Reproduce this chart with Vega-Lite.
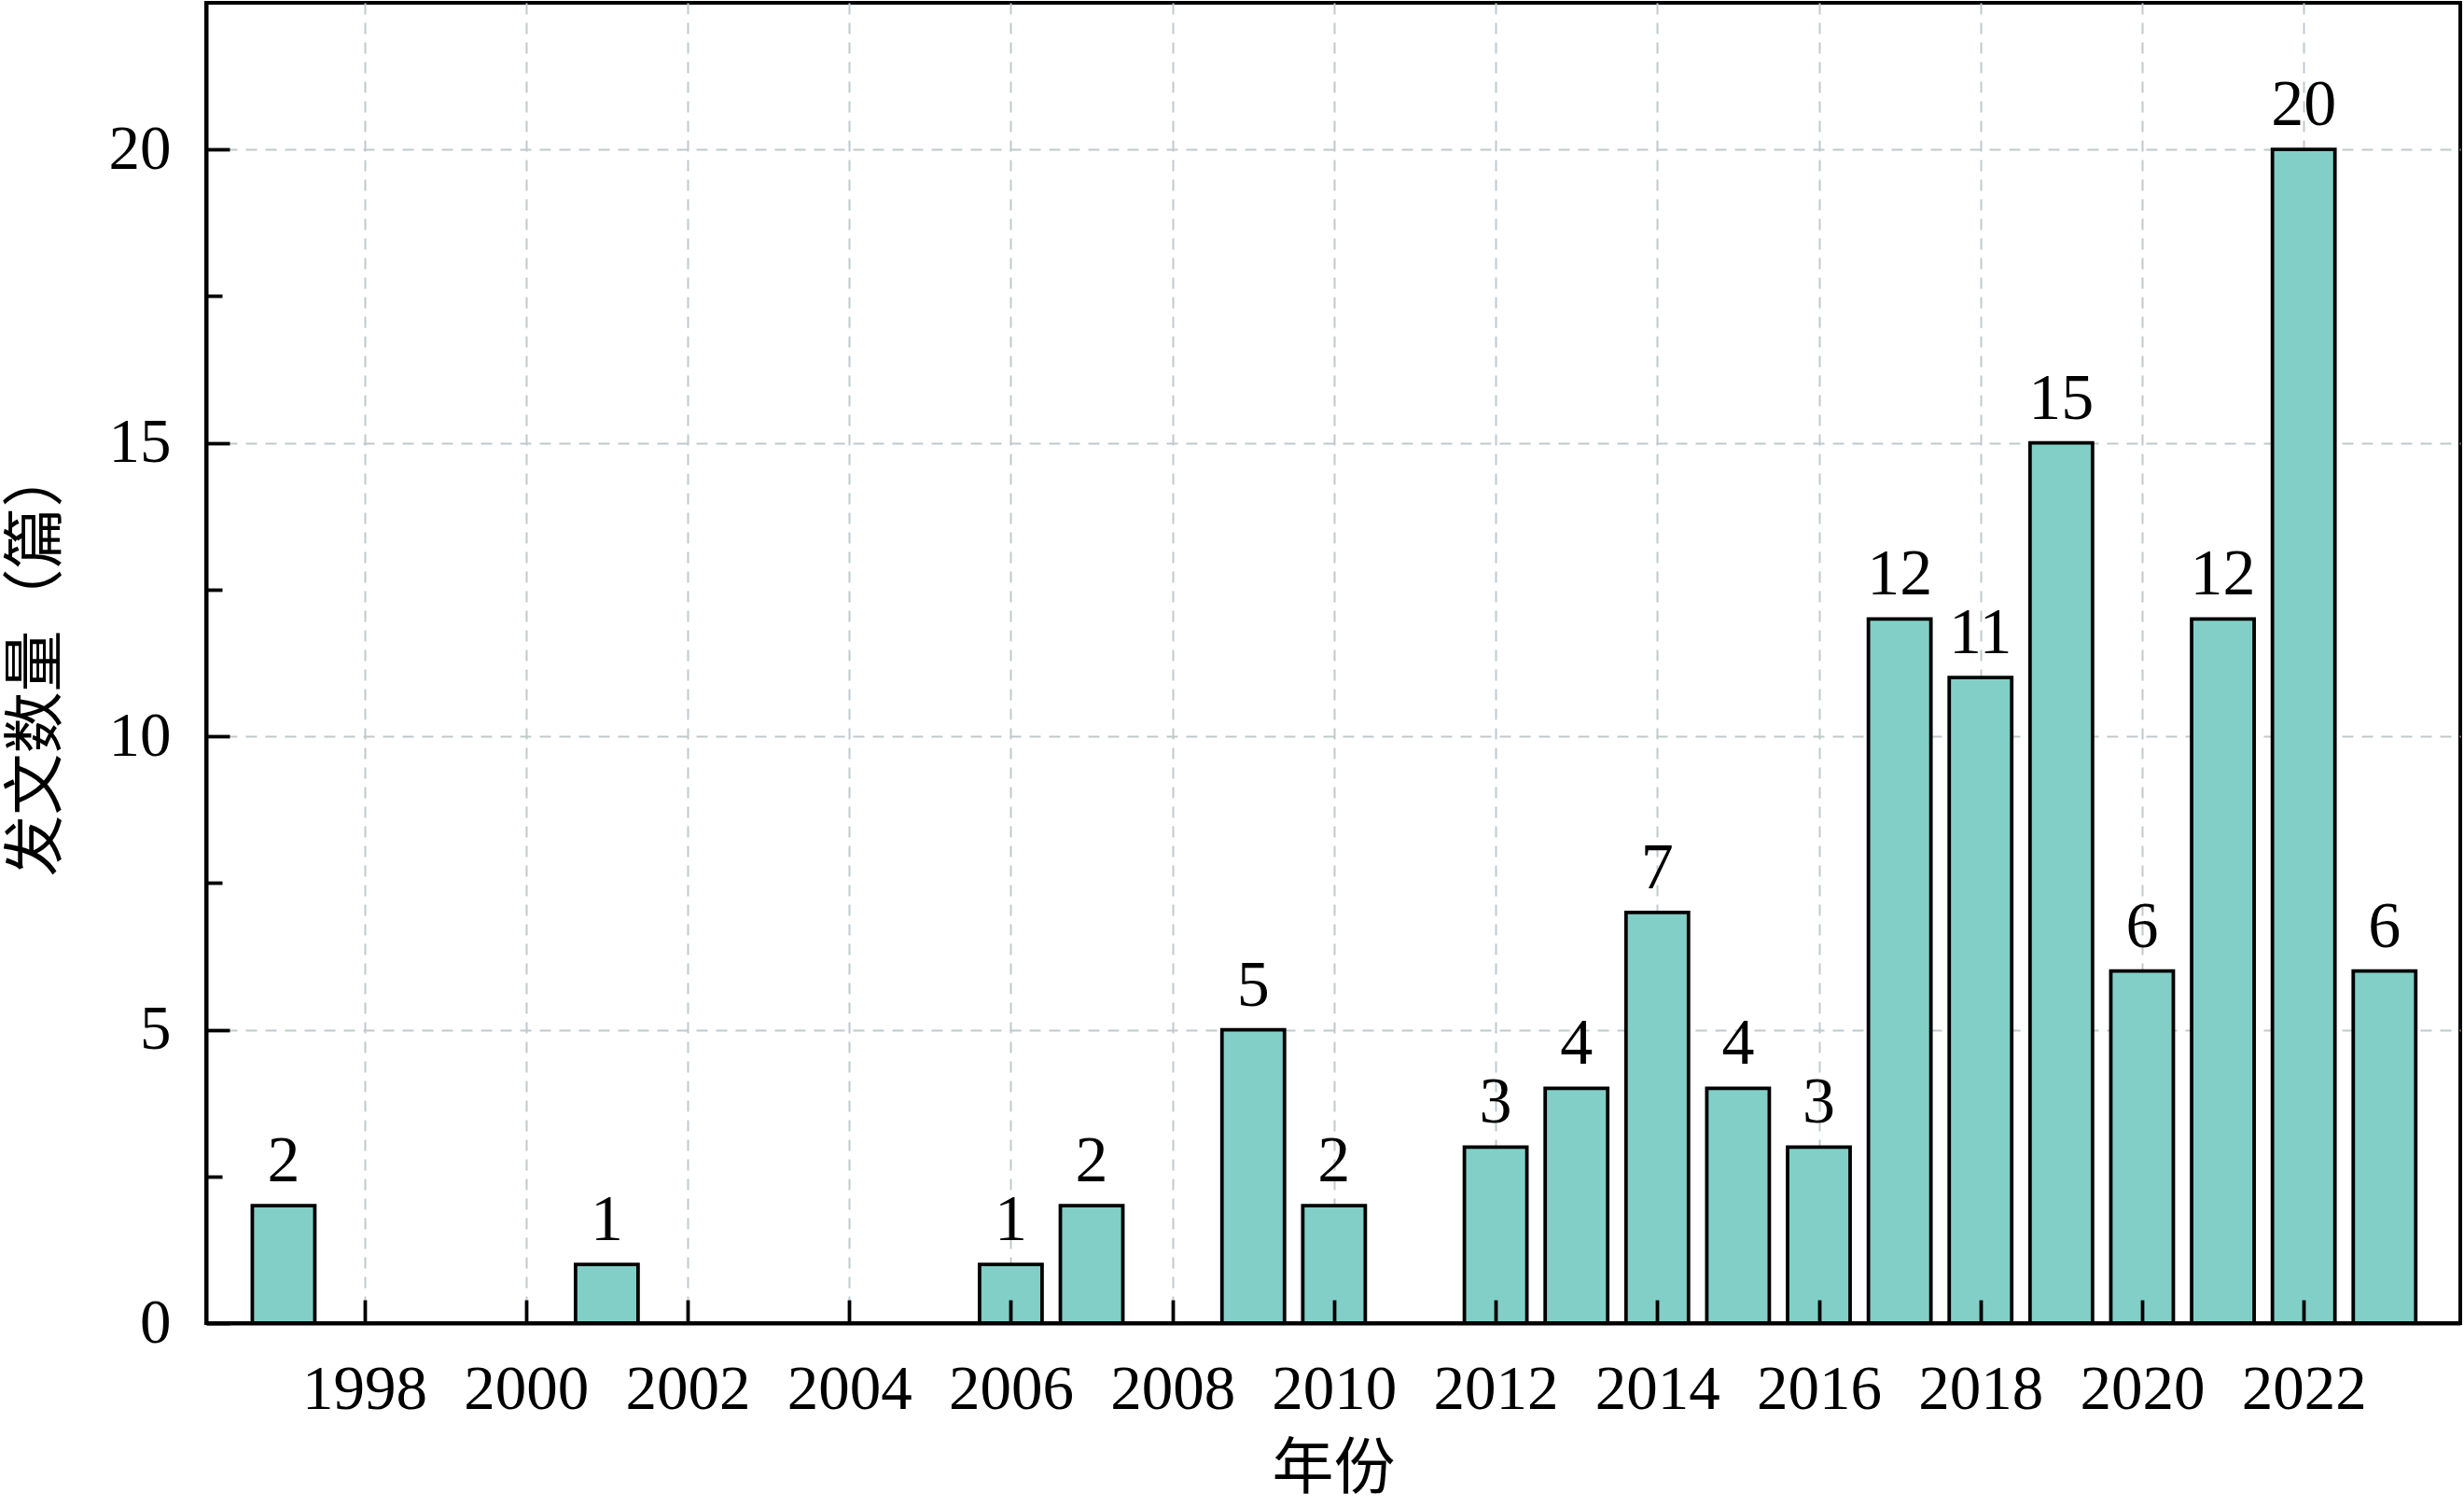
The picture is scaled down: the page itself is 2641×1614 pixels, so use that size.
{
  "$schema": "https://vega.github.io/schema/vega-lite/v6.json",
  "width": 2416,
  "height": 1415,
  "autosize": {"type": "none"},
  "padding": {"left": 221, "top": 3, "right": 4, "bottom": 196},
  "background": "white",
  "config": {
    "view": {"stroke": "black", "strokeWidth": 4},
    "font": "Liberation Serif"
  },
  "data": {
    "values": [
      {"year": 1997, "count": 2},
      {"year": 2001, "count": 1},
      {"year": 2006, "count": 1},
      {"year": 2007, "count": 2},
      {"year": 2009, "count": 5},
      {"year": 2010, "count": 2},
      {"year": 2012, "count": 3},
      {"year": 2013, "count": 4},
      {"year": 2014, "count": 7},
      {"year": 2015, "count": 4},
      {"year": 2016, "count": 3},
      {"year": 2017, "count": 12},
      {"year": 2018, "count": 11},
      {"year": 2019, "count": 15},
      {"year": 2020, "count": 6},
      {"year": 2021, "count": 12},
      {"year": 2022, "count": 20},
      {"year": 2023, "count": 6}
    ]
  },
  "resolve": {"axis": {"x": "independent", "y": "independent"}},
  "layer": [
    {
      "mark": {"type": "bar", "size": 67, "fill": "#82CFC7", "stroke": "black", "strokeWidth": 3.8},
      "encoding": {
        "x": {
          "field": "year", "type": "quantitative",
          "scale": {"domain": [1996.1, 2023.88], "nice": false, "zero": false},
          "axis": {
            "orient": "bottom", "values": [1998, 2000, 2002, 2004, 2006, 2008, 2010, 2012, 2014, 2016, 2018, 2020, 2022],
            "grid": true, "gridColor": "#bfc9cd", "gridDash": [12, 9], "gridWidth": 2,
            "labels": false, "ticks": false, "domain": false, "title": null, "zindex": 0
          }
        },
        "y": {
          "field": "count", "type": "quantitative",
          "scale": {"domain": [0, 22.5], "nice": false},
          "axis": {
            "orient": "left", "values": [5, 10, 15, 20],
            "grid": true, "gridColor": "#bfc9cd", "gridDash": [12, 9], "gridWidth": 2,
            "labels": false, "ticks": false, "domain": false, "title": null, "zindex": 0
          }
        }
      }
    },
    {
      "mark": {"type": "text", "baseline": "alphabetic", "align": "center", "dy": -26, "fontSize": 70, "font": "Liberation Serif", "color": "black"},
      "encoding": {
        "x": {
          "field": "year", "type": "quantitative",
          "axis": {
            "orient": "bottom", "values": [1998, 2000, 2002, 2004, 2006, 2008, 2010, 2012, 2014, 2016, 2018, 2020, 2022],
            "format": "d", "grid": false,
            "domain": true, "domainColor": "black", "domainWidth": 4,
            "ticks": true, "tickSize": -25, "tickWidth": 3.8, "tickColor": "black",
            "labelFont": "Liberation Serif", "labelFontSize": 67, "labelColor": "black", "labelPadding": 63,
            "title": "年份", "titleFont": "Liberation Serif, Noto Sans CJK SC", "titleFontSize": 66, "titleFontWeight": "normal", "titleColor": "black",
            "titleBaseline": "alphabetic", "titleY": 176,
            "zindex": 1
          }
        },
        "y": {
          "field": "count", "type": "quantitative",
          "axis": {
            "orient": "left", "values": [0, 5, 10, 15, 20],
            "grid": false,
            "domain": true, "domainColor": "black", "domainWidth": 4,
            "ticks": true, "tickSize": -25, "tickWidth": 3.8, "tickColor": "black",
            "labelFont": "Liberation Serif", "labelFontSize": 67, "labelColor": "black", "labelPadding": 63,
            "title": "发文数量（篇）", "titleFont": "Liberation Serif, Noto Sans CJK SC", "titleFontSize": 66, "titleFontWeight": "normal", "titleColor": "black",
            "titleBaseline": "alphabetic", "titleX": -162, "titleY": 705, "titleAngle": -90,
            "zindex": 1
          }
        },
        "text": {"field": "count", "type": "quantitative"}
      }
    },
    {
      "mark": {"type": "text", "opacity": 0, "text": ""},
      "encoding": {
        "x": {"field": "year", "type": "quantitative", "axis": null},
        "y": {
          "field": "count", "type": "quantitative",
          "axis": {
            "orient": "left", "values": [2.5, 7.5, 12.5, 17.5],
            "grid": false, "labels": false, "domain": false, "title": null,
            "ticks": true, "tickSize": -17, "tickWidth": 3.8, "tickColor": "black",
            "zindex": 1
          }
        }
      }
    }
  ]
}
